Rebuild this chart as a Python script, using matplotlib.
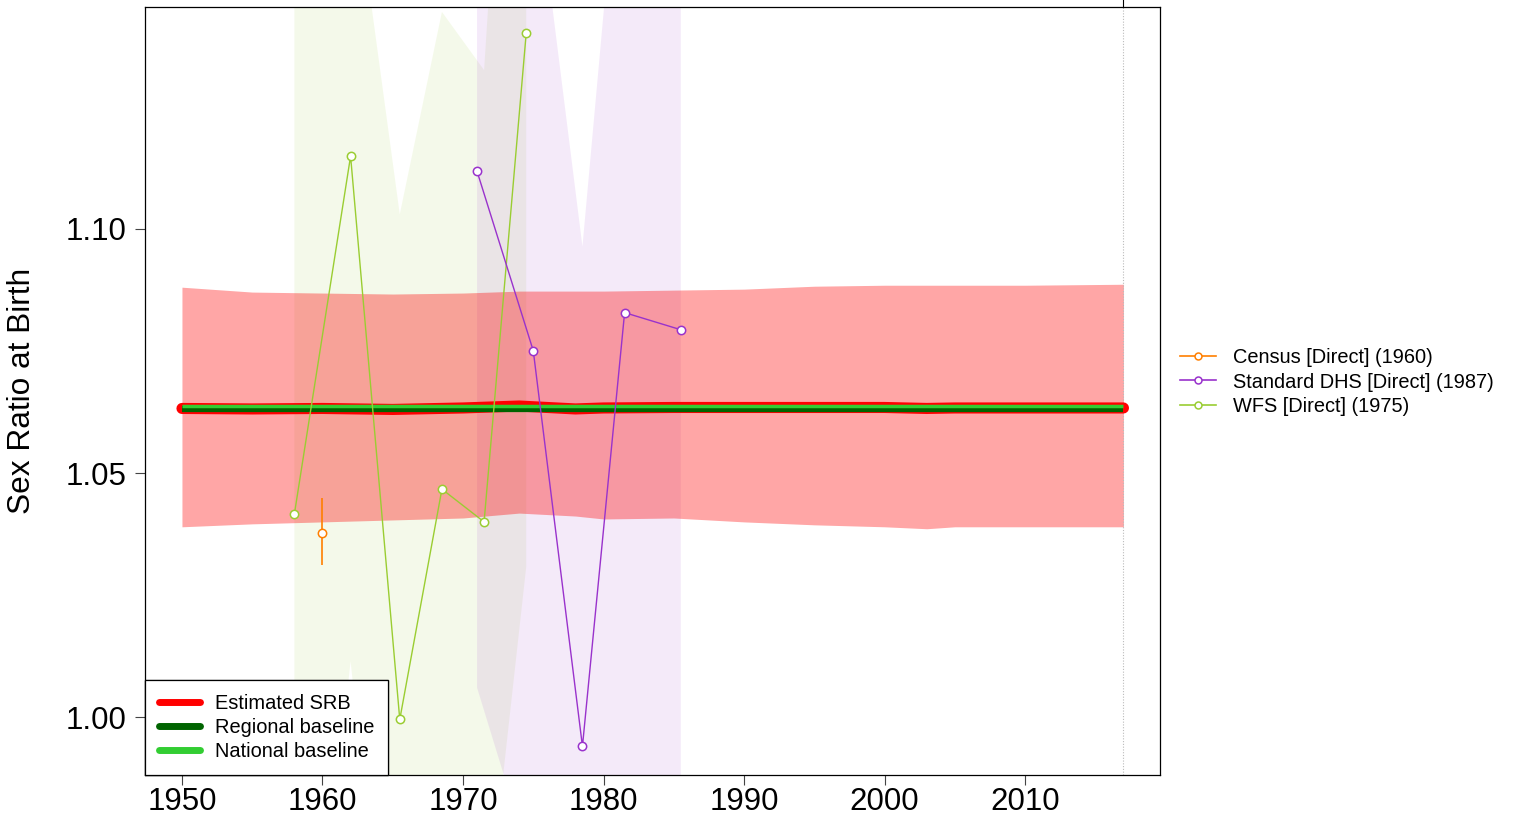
import numpy as np
import matplotlib
matplotlib.use("Agg")
import matplotlib.pyplot as plt
from matplotlib.lines import Line2D

plt.rcParams['font.family'] = ['Liberation Sans', 'DejaVu Sans']

# estimated SRB with 95% band
est_years = [1950, 1955, 1960, 1965, 1970, 1974, 1978, 1980, 1985, 1990, 1995, 2000, 2003, 2005, 2010, 2017]
srb_est = [1.0632, 1.0631, 1.0632, 1.0630, 1.0633, 1.0637, 1.0631, 1.0633, 1.0634, 1.0634, 1.0634, 1.0634, 1.0632, 1.0633, 1.0633, 1.0633]
srb_upper = [1.0880, 1.0870, 1.0868, 1.0866, 1.0868, 1.0872, 1.0872, 1.0872, 1.0874, 1.0876, 1.0882, 1.0884, 1.0884, 1.0884, 1.0884, 1.0886]
srb_lower = [1.0390, 1.0396, 1.0400, 1.0404, 1.0408, 1.0418, 1.0412, 1.0406, 1.0408, 1.0400, 1.0394, 1.0390, 1.0386, 1.0390, 1.0390, 1.0390]
regional_base = 1.0630
national_base = 1.0637

# data series
census_year = [1960]
census_srb = [1.0378]
census_lo = [1.0311]
census_hi = [1.0449]

dhs_years = [1971, 1975, 1978.5, 1981.5, 1985.5]
dhs_srb = [1.1117, 1.0750, 0.9941, 1.0828, 1.0793]
dhs_lo = [1.0061, 0.9686, 0.8940, 0.9800, 0.9750]
dhs_hi = [1.2150, 1.1764, 1.0963, 1.1917, 1.1800]

wfs_years = [1958, 1962, 1965.5, 1968.5, 1971.5, 1974.5]
wfs_srb = [1.0416, 1.1148, 0.9996, 1.0467, 1.0400, 1.1400]
wfs_lo = [0.9060, 1.0115, 0.9156, 0.9480, 0.9530, 1.0308]
wfs_hi = [1.1700, 1.1770, 1.1029, 1.1443, 1.1324, 1.2670]

c_census = '#FF7F00'
c_dhs = '#9932CC'
c_wfs = '#9ACD32'

fig = plt.figure(figsize=(15.13, 8.21), dpi=100)
ax = fig.add_axes([145/1513, 46/821, 1015/1513, 768/821])

# data uncertainty bands
ax.fill_between(wfs_years, wfs_lo, wfs_hi, color=c_wfs, alpha=0.1, lw=0, zorder=1)
ax.fill_between(dhs_years, dhs_lo, dhs_hi, color=c_dhs, alpha=0.1, lw=0, zorder=1)

# estimate band and lines
ax.fill_between(est_years, srb_lower, srb_upper, color='red', alpha=0.35, lw=0, zorder=2)
ax.plot(est_years, srb_est, color='red', lw=8, solid_capstyle='round', zorder=3)
ax.plot([est_years[0], est_years[-1]], [regional_base]*2, color='#006400', lw=4.5, solid_capstyle='butt', zorder=4)
ax.plot([est_years[0], est_years[-1]], [national_base]*2, color='#32CD32', lw=2.5, solid_capstyle='butt', zorder=5)

# data points
mk = dict(marker='o', markersize=6, markerfacecolor='white', markeredgewidth=1.1, lw=1, zorder=6)
ax.plot(wfs_years, wfs_srb, color=c_wfs, **mk)
ax.plot(dhs_years, dhs_srb, color=c_dhs, **mk)
ax.vlines(census_year, census_lo, census_hi, color=c_census, lw=1.2, zorder=6)
ax.plot(census_year, census_srb, color=c_census, **mk)

# end of estimation period
ax.axvline(2017, color='#BBBBBB', lw=0.8, ls=(0, (1, 1.5)), zorder=2)
ax.plot([2017, 2017], [1.1453, 1.1453 + 7/4890], color='black', lw=0.8, clip_on=False)

ax.set_xlim(1947.37, 2019.6)
ax.set_ylim(0.98824, 1.1453)
ax.set_xticks([1950, 1960, 1970, 1980, 1990, 2000, 2010])
ax.set_yticks([1.00, 1.05, 1.10])
ax.set_yticklabels(['1.00', '1.05', '1.10'])
ax.tick_params(axis='both', direction='out', length=7.2, width=0.8, color='#444444', labelsize=22.5)
ax.tick_params(axis='x', pad=1.5)
ax.tick_params(axis='y', pad=6)
for s in ax.spines.values():
    s.set_linewidth(0.9)
    s.set_color('black')
ax.set_ylabel('Sex Ratio at Birth', fontsize=22.8, va='center')
ax.yaxis.set_label_coords(-0.1215, 0.5)

# legends
est_handles = [Line2D([], [], color='red', lw=5, solid_capstyle='round'),
               Line2D([], [], color='#006400', lw=5, solid_capstyle='round'),
               Line2D([], [], color='#32CD32', lw=5, solid_capstyle='round')]
leg1 = ax.legend(est_handles, ['Estimated SRB', 'Regional baseline', 'National baseline'],
                 loc='lower left', bbox_to_anchor=(0, 0), borderaxespad=0, fontsize=14.4,
                 fancybox=False, framealpha=1, edgecolor='black', handlelength=2.05,
                 handletextpad=0.75, labelspacing=0.25, borderpad=0.7)
leg1.get_frame().set_linewidth(0.9)
leg1.set_zorder(10)
ax.add_artist(leg1)

src_handles = [Line2D([], [], color=c, marker='o', markersize=5, markerfacecolor='white',
                      markeredgewidth=1.1, lw=1.2) for c in (c_census, c_dhs, c_wfs)]
fig.legend(src_handles, ['Census [Direct] (1960)', 'Standard DHS [Direct] (1987)', 'WFS [Direct] (1975)'],
           loc='center left', bbox_to_anchor=(1170/1513, (821-382)/821), frameon=False,
           fontsize=14.4, handlelength=1.8, handletextpad=0.85, labelspacing=0.27, borderpad=0)

fig.savefig('out.png', dpi=100)
